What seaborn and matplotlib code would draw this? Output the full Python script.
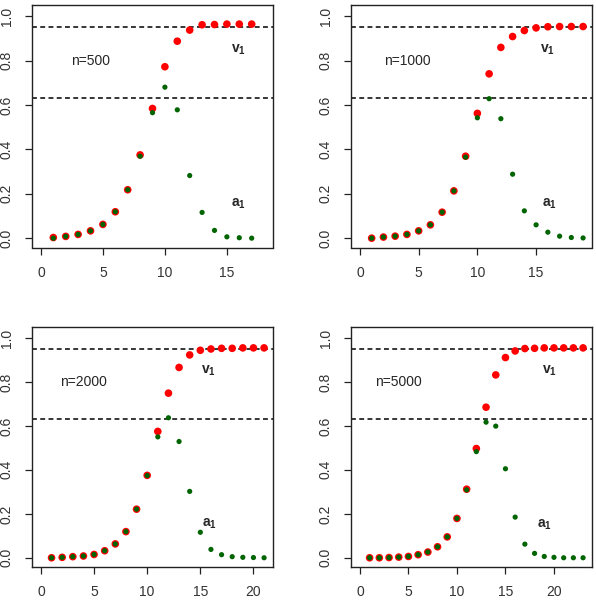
import numpy as np
import pandas as pd
import matplotlib
matplotlib.use("Agg")
import matplotlib.pyplot as plt
import seaborn as sns

# values, one panel per sample size
v1_500 = [0.003, 0.008, 0.017, 0.033, 0.062, 0.119, 0.218, 0.375, 0.584, 0.772,
          0.887, 0.937, 0.961, 0.962, 0.964, 0.964, 0.964]
a1_500 = [0.000, 0.008, 0.017, 0.033, 0.062, 0.119, 0.218, 0.369, 0.565, 0.680,
          0.578, 0.282, 0.116, 0.035, 0.006, 0.002, 0.000]

v1_1000 = [0.000, 0.005, 0.009, 0.017, 0.033, 0.060, 0.117, 0.213, 0.369, 0.562,
           0.740, 0.859, 0.908, 0.935, 0.947, 0.952, 0.953, 0.953, 0.953]
a1_1000 = [0.000, 0.005, 0.009, 0.017, 0.033, 0.060, 0.117, 0.213, 0.365, 0.542,
           0.628, 0.538, 0.288, 0.123, 0.060, 0.027, 0.009, 0.003, 0.001]

v1_2000 = [0.000, 0.002, 0.005, 0.008, 0.015, 0.032, 0.063, 0.119, 0.221, 0.375,
           0.575, 0.749, 0.866, 0.923, 0.944, 0.950, 0.953, 0.953, 0.955, 0.955, 0.955]
a1_2000 = [0.000, 0.002, 0.005, 0.008, 0.015, 0.032, 0.063, 0.119, 0.221, 0.374,
           0.550, 0.637, 0.529, 0.302, 0.116, 0.038, 0.014, 0.005, 0.002, 0.001, 0.000]

v1_5000 = [0.000, 0.000, 0.001, 0.003, 0.006, 0.014, 0.026, 0.050, 0.095, 0.179,
           0.312, 0.497, 0.685, 0.832, 0.911, 0.941, 0.952, 0.953, 0.955, 0.955,
           0.955, 0.955, 0.955]
a1_5000 = [0.000, 0.000, 0.001, 0.003, 0.006, 0.014, 0.026, 0.050, 0.095, 0.179,
           0.309, 0.483, 0.617, 0.599, 0.405, 0.185, 0.062, 0.020, 0.006, 0.002,
           0.000, 0.000, 0.000]

sample_sizes = [500, 1000, 2000, 5000]
v1_series = [v1_500, v1_1000, v1_2000, v1_5000]
a1_series = [a1_500, a1_1000, a1_2000, a1_5000]
ref_levels = [0.95, 0.632]

x_max = [18, 19, 21, 23]
x_ticks = [[0, 5, 10, 15], [0, 5, 10, 15], [0, 5, 10, 15, 20], [0, 5, 10, 15, 20]]
v1_label_pos = [(15.9, 0.85), (16.0, 0.85), (15.8, 0.85), (19.5, 0.85)]
a1_label_pos = [(15.9, 0.155), (16.1, 0.155), (15.9, 0.155), (19.0, 0.152)]

sns.set_style("ticks")
plt.rcParams['font.family'] = ['Liberation Sans', 'DejaVu Sans']
plt.rcParams['mathtext.fontset'] = 'custom'
plt.rcParams['mathtext.rm'] = 'Liberation Sans'
plt.rcParams['mathtext.bf'] = 'Liberation Sans:bold'

fig = plt.figure(figsize=(5.96, 6.08), dpi=100)
W, H = 596, 608
# axes boxes in pixels: left, top, right, bottom
boxes = [(32, 5, 273, 247.5), (351, 5, 592, 247.5),
         (32, 327, 273, 567), (351, 327, 592, 567)]

for i, n in enumerate(sample_sizes):
    l, t, r, b = boxes[i]
    ax = fig.add_axes([l / W, 1 - b / H, (r - l) / W, (b - t) / H])
    steps = np.arange(1, len(v1_series[i]) + 1)
    df = pd.DataFrame({"step": steps, "v1": v1_series[i], "a1": a1_series[i]})

    for lvl in ref_levels:
        ax.axhline(lvl, color="black", lw=1.1, dashes=(3.2, 2.2), zorder=1)

    sns.scatterplot(data=df, x="step", y="v1", color="#ff0000", s=30,
                    edgecolor="none", ax=ax, zorder=3)
    sns.scatterplot(data=df, x="step", y="a1", color="#006400", s=14,
                    edgecolor="none", ax=ax, zorder=4)

    # R-style 4% padding around 0..x_max
    pad = 0.04 * x_max[i]
    ax.set_xlim(-pad, x_max[i] + pad)
    ax.set_ylim(-0.042, 1.05)
    ax.set_xticks(x_ticks[i])
    ax.set_yticks([0.0, 0.2, 0.4, 0.6, 0.8, 1.0])
    ax.set_yticklabels(["0.0", "0.2", "0.4", "0.6", "0.8", "1.0"],
                       rotation=90, va="center")
    ax.set_xlabel("")
    ax.set_ylabel("")
    for side in ["top", "right", "left", "bottom"]:
        ax.spines[side].set_visible(True)
        ax.spines[side].set_color("#222222")
        ax.spines[side].set_linewidth(1.0)
    ax.tick_params(axis="both", direction="out", length=5, width=0.9,
                   color="#222222", labelsize=10, labelcolor="#333333", pad=8)

    ax.text(4.0, 0.8, f"n={n}", fontsize=10, ha="center", va="center")
    ax.text(*v1_label_pos[i], r"$\mathbf{v}_\mathbf{1}$", fontsize=10,
            ha="center", va="center")
    ax.text(*a1_label_pos[i], r"$\mathbf{a}_\mathbf{1}$", fontsize=10,
            ha="center", va="center")

fig.savefig("out.png", dpi=100)
